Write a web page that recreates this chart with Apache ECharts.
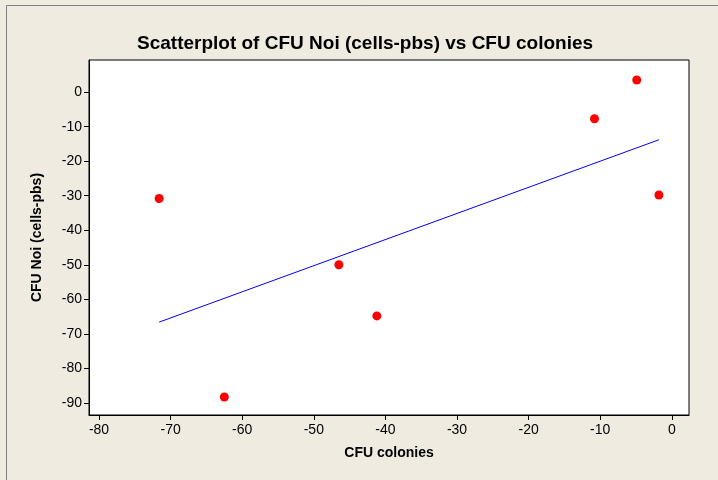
<!DOCTYPE html>
<html>
<head>
<meta charset="utf-8">
<script src="https://cdn.jsdelivr.net/npm/echarts@6/dist/echarts.min.js"></script>
<style>
  html, body { margin: 0; padding: 0; background: #efebe1; }
  #main { width: 718px; height: 480px; }
</style>
</head>
<body>
<div id="main"></div>
<script>
  // values
  var cfuColonies = [-71.6, -62.5, -46.5, -41.2, -10.8, -4.9, -1.8]
  var cfuNoi = [-30.8, -88.3, -50.0, -64.8, -7.7, 3.5, -29.8]
  // fitted line end points, as drawn
  var fitX = [-71.6, -1.8]
  var fitY = [-66.6, -13.8]
  var xTicks = [-80, -70, -60, -50, -40, -30, -20, -10, 0]
  var yTicks = [-90, -80, -70, -60, -50, -40, -30, -20, -10, 0]

  var points = cfuColonies.map(function (x, i) {
    return [x, cfuNoi[i]]
  })
  var fitLine = fitX.map(function (x, i) {
    return [x, fitY[i]]
  })

  var font = 'Liberation Sans'
  var chart = echarts.init(document.getElementById('main'))
  chart.setOption({
    backgroundColor: '#efebe1',
    animation: false,
    title: {
      text: 'Scatterplot of CFU Noi (cells-pbs) vs CFU colonies',
      left: 132,
      top: 29,
      textStyle: { fontFamily: font, fontSize: 19, fontWeight: 'bold', color: '#000' },
    },
    graphic: [
      {
        type: 'rect',
        shape: { x: 6.5, y: 5.5, width: 800, height: 800 },
        style: { fill: 'none', stroke: '#808080', lineWidth: 1 },
        silent: true,
      },
    ],
    grid: {
      left: 89,
      right: 29,
      top: 60,
      bottom: 65,
      show: true,
      backgroundColor: '#fff',
      borderColor: '#000',
      borderWidth: 1,
    },
    xAxis: {
      type: 'value',
      min: -81.4,
      max: 2.4,
      name: 'CFU colonies',
      nameLocation: 'middle',
      nameGap: 31,
      nameTextStyle: { fontFamily: font, fontSize: 14, fontWeight: 'bold', color: '#000' },
      axisLine: { show: true, onZero: false, lineStyle: { color: '#000' } },
      axisTick: { show: true, inside: false, length: 5, customValues: xTicks, lineStyle: { color: '#000' } },
      axisLabel: { customValues: xTicks, fontFamily: font, fontSize: 14, color: '#000', margin: 8 },
      splitLine: { show: false },
    },
    yAxis: {
      type: 'value',
      min: -93.5,
      max: 9.3,
      name: 'CFU Noi (cells-pbs)',
      nameLocation: 'middle',
      nameGap: 45,
      nameTextStyle: { fontFamily: font, fontSize: 14, fontWeight: 'bold', color: '#000' },
      axisLine: { show: true, onZero: false, lineStyle: { color: '#000' } },
      axisTick: { show: true, inside: false, length: 5, customValues: yTicks, lineStyle: { color: '#000' } },
      axisLabel: { customValues: yTicks, fontFamily: font, fontSize: 14, color: '#000', margin: 7 },
      splitLine: { show: false },
    },
    series: [
      {
        type: 'line',
        data: fitLine,
        symbol: 'none',
        lineStyle: { color: '#0000ff', width: 1 },
        z: 2,
      },
      {
        type: 'scatter',
        data: points,
        symbol: 'circle',
        symbolSize: 9,
        itemStyle: { color: '#ff0000', opacity: 1 },
        z: 3,
      },
    ],
  })
</script>
</body>
</html>
